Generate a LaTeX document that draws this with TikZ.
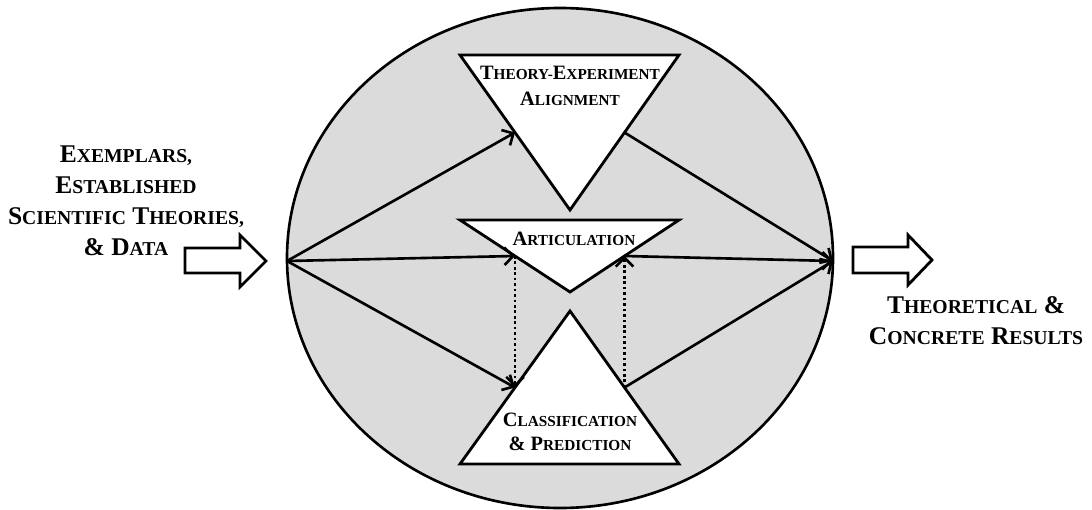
\documentclass[tikz,border=0pt]{standalone}
\usepackage{fontspec}
\setmainfont{Liberation Serif}
\usetikzlibrary{arrows.meta,calc}

% fake small caps: capital letter, then the rest smaller
\newcommand{\outsc}[2]{{\fontsize{14.5}{17.6}\selectfont #1}{\fontsize{11.2}{17.6}\selectfont #2}}
\newcommand{\insc}[2]{{\fontsize{11.6}{15}\selectfont #1}{\fontsize{8.7}{15}\selectfont #2}}

\tikzset{
  flow/.style={line width=1.5pt,-{Straight Barb[length=5pt,width=10pt]}},
  link/.style={flow,dash pattern=on 1.5pt off 1.6pt},
  tri/.style={draw,fill=white,line width=1.6pt,line join=miter},
  bigarrow/.style={draw,fill=white,line width=1.6pt,line join=miter},
  outtext/.style={align=center,inner sep=0pt,font=\bfseries\fontsize{14.5}{17.6}\selectfont},
  intext/.style={align=center,inner sep=0pt,font=\bfseries\fontsize{11.6}{15}\selectfont}
}

\begin{document}
\begin{tikzpicture}[x=0.02cm,y=-0.02cm]
        \useasboundingbox (0,0) rectangle (1092,510);

        % the big circle
        \draw[fill=black!14,line width=1.5pt] (560,258) ellipse [x radius=273,y radius=250];
        \coordinate (west) at (287,261);
        \coordinate (east) at (833,261);

        % corners of the three triangles
        \coordinate (ta1) at (460,55);
        \coordinate (ta2) at (679,55);
        \coordinate (ta3) at (570,210);
        \coordinate (ar1) at (460,220);
        \coordinate (ar2) at (679,220);
        \coordinate (ar3) at (570,292);
        \coordinate (cp1) at (570,311);
        \coordinate (cp2) at (460,464);
        \coordinate (cp3) at (679,464);

        \draw[tri] (ta1) -- (ta2) -- (ta3) -- cycle;
        \draw[tri] (ar1) -- (ar2) -- (ar3) -- cycle;
        \draw[tri] (cp1) -- (cp3) -- (cp2) -- cycle;

        % middle of the slanted sides
        \coordinate (ta-l) at ($(ta1)!0.5!(ta3)$);
        \coordinate (ta-r) at ($(ta2)!0.5!(ta3)$);
        \coordinate (ar-l) at ($(ar1)!0.5!(ar3)$);
        \coordinate (ar-r) at ($(ar2)!0.5!(ar3)$);
        \coordinate (cp-l) at ($(cp1)!0.5!(cp2)$);
        \coordinate (cp-r) at ($(cp1)!0.5!(cp3)$);

        \node[intext] (ta) at (570,86) {\insc{T}{HEORY-}\insc{E}{XPERIMENT}\\\insc{A}{LIGNMENT}};
        \node[intext] (ar) at (574,239) {\insc{A}{RTICULATION}};
        \node[intext,font=\bfseries\fontsize{11.6}{14}\selectfont] (cp) at (570,432) {\insc{C}{LASSIFICATION}\\\insc{\& P}{REDICTION}};

        % arrows inside
        \draw[flow] (west) -- (ta-l);
        \draw[flow] (west) -- (ar-l);
        \draw[flow] (west) -- (cp-l);
        \draw[flow] (ta-r) -- (east);
        \draw[flow] (ar-r) -- (east);
        \draw[flow] (cp-r) -- (east);
        \draw[link] (ar-l) -- (cp-l);
        \draw[link] (cp-r) -- (ar-r);

        % in and out
        \draw[bigarrow] (185,248) -- (240,248) -- (240,235) -- (266,261) -- (240,287) -- (240,273) -- (185,273) -- cycle;
        \draw[bigarrow] (853,247) -- (908,247) -- (908,235) -- (932,260) -- (908,285) -- (908,273) -- (853,273) -- cycle;

        \node[outtext] (inputs) at (126,201) {\outsc{E}{XEMPLARS,}\\\outsc{E}{STABLISHED}\\\outsc{S}{CIENTIFIC} \outsc{T}{HEORIES,}\\\outsc{\& D}{ATA}};
        \node[outtext] (results) at (976,321) {\outsc{T}{HEORETICAL} \outsc{\&}{}\\\outsc{C}{ONCRETE} \outsc{R}{ESULTS}};
      \end{tikzpicture}
\end{document}
